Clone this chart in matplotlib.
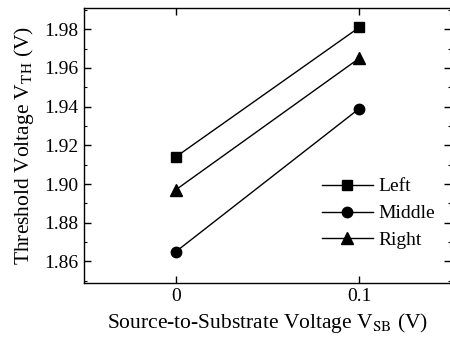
import matplotlib
matplotlib.use('Agg')
import matplotlib.pyplot as plt
from matplotlib.ticker import MultipleLocator

# Data
vsb = [0, 0.1]
left = [1.914, 1.981]
middle = [1.865, 1.939]
right = [1.897, 1.965]

plt.rcParams['font.family'] = ['Liberation Serif', 'DejaVu Serif']
plt.rcParams['mathtext.fontset'] = 'stix'

fig = plt.figure(figsize=(4.5, 3.42), dpi=100)
ax = fig.add_axes([84 / 450, 1 - 282.7 / 342, 367 / 450, 274.7 / 342])

ax.plot(vsb, left, color='black', lw=1, marker='s', ms=7, label='Left')
ax.plot(vsb, middle, color='black', lw=1, marker='o', ms=7.5, label='Middle')
ax.plot(vsb, right, color='black', lw=1, marker='^', ms=8, label='Right')

ax.set_xlim(-0.05, 0.15)
ax.set_ylim(1.849, 1.991)
ax.set_xticks([0, 0.1])
ax.set_xticklabels(['0', '0.1'])
ax.yaxis.set_major_locator(MultipleLocator(0.02))
ax.yaxis.set_minor_locator(MultipleLocator(0.01))
ax.yaxis.set_major_formatter(matplotlib.ticker.FormatStrFormatter('%.2f'))

ax.tick_params(which='both', direction='in', top=True, right=True, labelsize=14, pad=4)
ax.tick_params(which='major', length=5, width=1)
ax.tick_params(which='minor', length=2.5, width=0.8)
for s in ax.spines.values():
    s.set_linewidth(1)

ax.set_xlabel('Source-to-Substrate Voltage V$_{\\mathrm{SB}}$ (V)', fontsize=15.5, labelpad=4)
ax.set_ylabel('Threshold Voltage V$_{\\mathrm{TH}}$ (V)', fontsize=15.5, labelpad=6)

ax.legend(loc='upper left', bbox_to_anchor=(0.649, 0.382), frameon=False, fontsize=14,
          handlelength=2.6, handletextpad=0.3, labelspacing=0.48, borderaxespad=0,
          borderpad=0)

fig.savefig('out.png', dpi=100)
